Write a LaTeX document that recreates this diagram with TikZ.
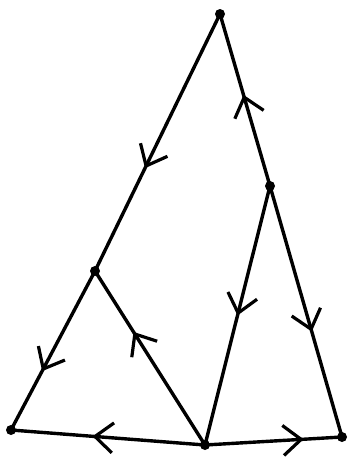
\documentclass[tikz,border=0pt]{standalone}
\usetikzlibrary{arrows.meta,decorations.markings}
\begin{document}
\begin{tikzpicture}[x=1pt,y=-1pt,
  dot/.style={circle,fill=black,inner sep=0pt,minimum size=10pt},
  edge/.style={line width=3.4pt,line cap=round,black},
  midarrow/.style={postaction={decorate},decoration={markings,
    mark=at position #1 with {\arrow[line width=3.2pt]{Straight Barb[length=18pt,width=30pt]}}}}]
\useasboundingbox (0,0) rectangle (349,463);
\node[dot] (A) at (220,14) {};
\node[dot] (R) at (270,186) {};
\node[dot] (L) at (95,271) {};
\node[dot] (BL) at (11,430) {};
\node[dot] (BM) at (205,445) {};
\node[dot] (BR) at (342,437) {};
\draw[edge,midarrow=0.6] (A.center) -- (L.center);
\draw[edge,midarrow=0.53] (R.center) -- (A.center);
\draw[edge,midarrow=0.5] (R.center) -- (BM.center);
\draw[edge,midarrow=0.58] (R.center) -- (BR.center);
\draw[edge,midarrow=0.63] (L.center) -- (BL.center);
\draw[edge,midarrow=0.65] (BM.center) -- (L.center);
\draw[edge,midarrow=0.58] (BM.center) -- (BL.center);
\draw[edge,midarrow=0.72] (BM.center) -- (BR.center);
\end{tikzpicture}
\end{document}
